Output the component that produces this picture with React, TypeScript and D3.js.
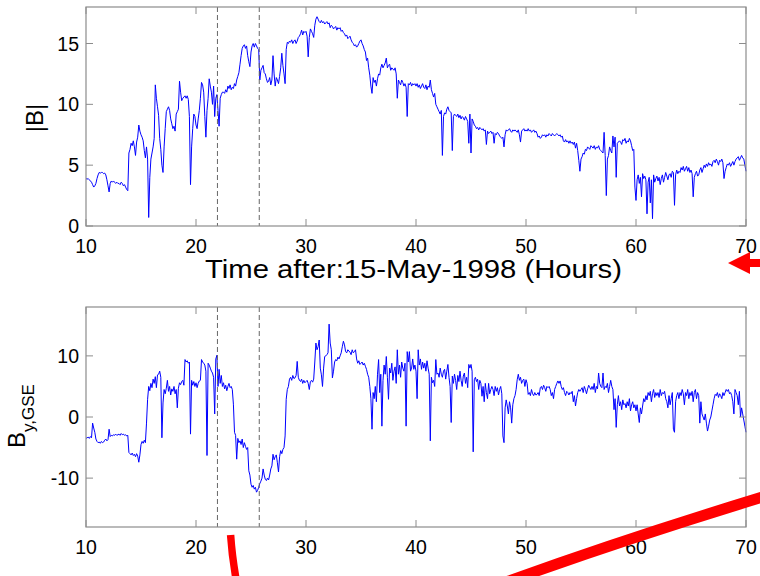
import React from "react";
import * as d3 from "d3";

// time axis (hours after 15-May-1998), sampled every 0.1 h from 10 to 70
const T0 = 10;
const DT = 0.1;

// |B| (nT), one row per hour, 10 samples per row
const bMag: number[] = [
  3.9, 3.85, 3.9, 3.8, 3.7, 3.6, 3.4, 3.2, 3.3, 3.5,
  3.9, 4.2, 4.4, 4.35, 4.4, 4.4, 4.3, 4.35, 4.2, 3.8,
  3.3, 2.8, 3.5, 3.7, 3.6, 3.7, 3.6, 3.5, 3.6, 3.5,
  3.5, 3.4, 3.6, 3.5, 3.3, 3.4, 3.2, 3.0, 2.9, 6.0,
  6.3, 6.8, 6.6, 7.0, 6.5, 5.8, 6.9, 7.3, 8.3, 7.8,
  7.5, 7.3, 7.0, 6.2, 5.6, 6.5, 5.5, 0.7, 4.0, 5.5,
  6.0, 6.5, 7.2, 11.6, 10.5, 9.8, 9.1, 7.2, 6.3, 5.0,
  4.4, 6.5, 8.0, 9.4, 9.6, 9.8, 9.5, 8.8, 8.4, 8.0,
  8.2, 7.8, 9.2, 9.4, 9.6, 11.9, 11.0, 10.3, 10.5, 10.6,
  10.7, 10.5, 10.7, 10.4, 9.0, 3.4, 6.5, 8.0, 9.2, 9.0,
  8.3, 8.0, 8.8, 9.5, 10.5, 11.8, 11.6, 11.0, 9.0, 7.3,
  9.5, 10.5, 12.1, 11.5, 11.0, 10.0, 11.5, 9.0, 10.5, 10.8,
  9.5, 8.2, 10.5, 10.8, 11.0, 11.0, 10.9, 11.2, 11.0, 11.5,
  11.3, 11.6, 11.2, 11.4, 11.3, 11.7, 11.5, 12.0, 12.3, 12.6,
  13.3, 14.0, 14.6, 14.8, 14.9, 14.6, 14.8, 14.0, 13.5, 13.1,
  14.3, 14.8, 15.0, 14.7, 15.0, 14.8, 14.6, 14.5, 12.0, 12.8,
  13.0, 13.2, 12.6, 12.5, 12.1, 11.8, 11.9, 12.2, 11.6, 12.0,
  14.0, 12.5, 11.5, 12.2, 12.0, 11.7, 12.3, 13.0, 14.2, 13.2,
  12.5, 11.7, 14.5, 15.1, 15.0, 15.2, 15.1, 15.3, 15.0, 15.2,
  15.3, 15.0, 15.2, 15.5, 15.6, 15.8, 16.1, 15.7, 16.0, 15.9,
  16.0, 15.6, 13.9, 15.5, 16.2, 16.0, 15.8, 15.5, 16.5, 17.0,
  17.2, 17.0, 16.8, 16.7, 16.9, 16.7, 16.8, 16.6, 16.7, 16.8,
  16.6, 16.7, 16.3, 16.5, 16.4, 16.2, 16.3, 16.4, 16.1, 16.3,
  16.2, 16.3, 16.0, 16.1, 15.9, 15.8, 15.6, 15.7, 15.4, 15.5,
  15.6, 15.3, 15.1, 15.0, 14.8, 14.9, 14.7, 14.8, 15.0, 15.2,
  15.3, 15.0, 14.8, 14.5, 14.3, 13.6, 13.8, 13.0, 12.4, 11.5,
  10.9, 12.2, 11.8, 12.0, 11.5, 12.1, 12.5, 12.4, 13.0, 13.3,
  13.0, 13.2, 13.4, 13.8, 13.0, 13.2, 13.3, 12.8, 13.0, 12.9,
  12.8, 13.0, 12.5, 10.5, 12.0, 11.8, 11.6, 12.0, 11.8, 11.5,
  11.7, 11.4, 9.0, 11.7, 11.6, 11.8, 11.5, 11.7, 11.6, 11.7,
  11.5, 11.7, 11.4, 11.6, 11.3, 11.5, 11.7, 11.4, 11.3, 11.6,
  11.2, 11.5, 11.4, 12.0, 11.2, 10.9, 10.6, 10.9, 10.0, 9.8,
  9.6, 9.4, 9.2, 9.5, 5.8, 9.0, 9.3, 9.2, 9.6, 9.8,
  9.5, 9.4, 9.3, 6.2, 9.0, 9.2, 9.1, 9.0, 9.2, 8.9,
  9.1, 8.8, 9.0, 8.9, 8.7, 9.0, 8.8, 8.6, 6.8, 9.2,
  6.0, 8.8, 8.6, 8.3, 8.2, 8.0, 8.1, 7.9, 8.1, 8.0,
  7.9, 8.0, 7.8, 7.9, 6.7, 7.8, 7.6, 7.7, 7.8, 7.6,
  7.7, 6.8, 7.6, 7.5, 7.7, 7.6, 7.4, 7.3, 7.2, 7.3,
  6.5, 7.5, 7.9, 7.8, 7.9, 8.0, 7.8, 7.7, 7.9, 7.8,
  7.9, 7.8, 7.7, 7.9, 7.5, 6.9, 7.8, 7.9, 8.0, 7.8,
  7.9, 7.8, 8.0, 7.8, 7.9, 7.7, 7.8, 7.9, 7.7, 7.8,
  7.6, 7.3, 7.4, 7.2, 7.3, 7.5, 7.4, 7.5, 7.3, 7.5,
  7.4, 7.6, 7.5, 7.4, 7.6, 7.5, 7.4, 7.5, 7.6, 7.5,
  7.4, 7.5, 7.3, 7.4, 7.0, 6.9, 7.1, 6.9, 7.0, 6.8,
  7.0, 6.8, 6.9, 6.7, 6.9, 6.4, 6.8, 6.2, 5.4, 4.5,
  5.5, 5.7, 6.0, 5.9, 6.3, 6.2, 6.5, 6.4, 6.3, 6.6,
  6.5, 6.4, 6.6, 6.3, 6.5, 6.4, 6.6, 6.3, 6.2, 6.1,
  6.0, 7.7, 5.8, 2.5, 5.5, 5.8, 6.5, 6.2, 6.0, 7.4,
  6.5, 7.3, 4.0, 6.8, 6.9, 7.0, 6.9, 6.7, 7.1, 7.0,
  7.2, 6.8, 7.0, 6.9, 7.2, 7.0, 6.6, 6.2, 6.3, 3.2,
  2.1, 3.8, 4.2, 3.5, 4.0, 2.4, 4.3, 3.9, 4.1, 3.8,
  1.0, 3.6, 4.0, 1.9, 3.8, 0.6, 4.2, 3.6, 3.9, 4.1,
  3.7, 4.0, 3.4, 3.9, 4.2, 3.6, 4.0, 4.4, 4.1, 3.8,
  4.2, 4.3, 4.0, 4.5, 4.4, 1.7, 4.2, 4.6, 4.3, 4.5,
  4.4, 4.8, 4.6, 4.9, 4.5, 4.7, 4.9, 4.5, 4.8, 4.4,
  4.6, 4.3, 2.4, 4.0, 4.3, 4.5, 4.1, 4.2, 4.6, 4.8,
  4.4, 4.7, 5.0, 4.8, 5.1, 4.9, 5.2, 5.0, 5.1, 4.9,
  5.3, 5.4, 5.2, 5.5, 5.3, 5.0, 5.4, 5.3, 5.5, 5.2,
  3.9, 4.5, 4.8, 5.1, 5.0, 5.2, 4.9, 5.1, 5.3, 5.0,
  5.3, 5.5, 5.6, 5.7, 5.4, 5.6, 5.8, 5.6, 5.5, 5.0,
  4.5,
];

// B_y,GSE (nT), one row per hour, 10 samples per row
const bY: number[] = [
  -3.5, -3.4, -3.3, -3.5, -3.2, -3.4, -1.0, -1.8, -2.5, -3.6,
  -4.0, -4.2, -4.1, -4.3, -4.0, -4.2, -4.1, -3.8, -3.6, -3.9,
  -3.7, -2.0, -3.2, -3.0, -3.1, -2.9, -3.0, -2.8, -3.0, -2.9,
  -2.8, -3.0, -2.7, -2.9, -2.8, -3.0, -2.9, -3.1, -3.0, -5.8,
  -6.0, -6.2, -5.9, -6.3, -6.1, -6.5, -6.0, -6.4, -7.4, -6.2,
  -4.5, -4.0, -4.3, -3.8, -4.2, -1.0, 2.9, 5.0, 4.3, 5.5,
  4.8, 6.2, 5.5, 6.6, 4.8, 6.9, 7.0, 7.5, 6.5, -3.4,
  2.3, 4.5, 3.8, 4.7, 6.0, 4.2, 5.0, 3.6, 4.6, 4.2,
  5.0, 3.8, 4.5, 1.5, 4.7, 5.6, 5.3, 5.8, 6.0, 5.2,
  9.4, 9.0, 9.2, 8.8, 9.0, -2.8, 6.0, 5.2, 5.8, 5.0,
  5.6, 4.8, 5.5, 5.9, 6.0, 9.4, 9.0, 8.8, 8.5, 7.5,
  -6.3, 8.8, 8.5, 8.0, 7.5, 7.2, 6.5, 0.5, 9.5, 10.1,
  5.0, 7.8, 5.5, 6.8, 5.0, 5.6, 4.6, 5.2, 4.3, 5.0,
  5.5, 4.8, 5.0, 4.5, 2.1, -2.5, -3.0, -6.9, -3.5, -4.2,
  -3.9, -4.5, -3.6, -5.0, -4.2, -4.8, -5.3, -5.0, -8.8, -9.5,
  -11.0, -11.5, -11.2, -11.8, -11.5, -12.3, -12.0, -11.5, -10.9, -10.5,
  -10.0, -8.5, -9.5, -10.2, -10.4, -10.0, -10.3, -9.5, -8.5, -8.0,
  -6.1, -7.0, -6.5, -6.2, -7.5, -9.0, -6.5, -5.5, -6.0, -5.3,
  -5.0, -3.1, 2.9, 4.5, 5.0, 6.2, 6.5, 6.0, 6.8, 6.3,
  6.4, 6.8, 9.1, 6.5, 6.0, 5.8, 6.2, 5.5, 6.0, 5.6,
  5.8, 6.0, 5.5, 4.5, 5.8, 6.0, 5.7, 6.2, 9.0, 12.1,
  11.0, 11.5, 12.6, 8.0, 6.9, 5.0, 8.0, 9.9, 10.0, 10.2,
  10.5, 15.2, 12.1, 11.0, 6.4, 7.5, 9.0, 9.4, 9.2, 9.8,
  9.5, 10.0, 10.5, 11.5, 12.4, 11.8, 10.7, 10.5, 11.0, 10.8,
  10.6, 10.2, 11.0, 10.5, 10.7, 11.0, 9.5, 8.8, 9.2, 8.6,
  8.8, 9.0, 8.5, 8.8, 8.3, 7.8, 7.0, 6.5, 5.0, 3.0,
  -2.0, 4.0, 3.0, 5.0, 2.5, 7.0, 9.4, 4.0, 7.0, -1.5,
  6.0, 8.5, 7.0, 9.9, 6.5, 2.9, 8.0, 7.2, 8.8, 6.0,
  7.5, 8.2, 5.5, 11.0, 7.0, 8.5, 6.5, 9.0, 8.0, 7.5,
  8.8, -1.5, 10.7, 9.0, 10.7, 7.5, 8.0, 9.5, 7.8, 8.5,
  7.5, 3.0, 11.0, 8.5, 9.5, 7.8, 9.0, 8.0, 8.8, 7.5,
  9.2, 8.0, 7.0, -3.9, 6.5, 5.6, 6.0, 5.0, 9.4, 7.0,
  7.2, 6.5, 8.0, 7.0, 6.5, 7.5, 7.8, 6.2, 7.5, 8.6,
  6.5, 5.0, -0.9, 6.7, 5.5, 7.0, 6.0, 4.5, 6.8, 5.8,
  7.5, 6.0, 5.0, 6.7, 7.2, 5.5, 6.5, 4.8, 8.6, 8.0,
  8.6, 7.5, -5.7, 6.1, 6.5, 5.8, 6.2, 4.5, 6.0, 5.5,
  3.4, 5.0, 2.5, 5.5, 4.0, 3.0, 5.5, 3.8, 4.5, 5.0,
  4.5, 3.5, 5.0, 4.2, 4.8, 3.6, 4.5, 5.0, 3.8, -3.1,
  -4.2, 1.5, 2.8, 1.8, 0.5, 2.5, 1.5, -1.0, 2.0, 3.0,
  3.5, 4.5, 6.1, 7.0, 6.0, 6.5, 5.5, 6.0, 6.2, 5.0,
  6.1, 5.5, 3.7, 4.0, 3.5, 4.5, 3.8, 3.5, 4.0, 3.6,
  3.7, 4.0, 3.5, 4.8, 5.0, 4.5, 5.2, 4.8, 4.2, 5.0,
  4.8, 5.0, 4.5, 3.5, 4.0, 3.0, 4.5, 5.0, 5.5, 5.9,
  5.5, 5.9, 5.0, 4.5, 4.8, 4.0, 3.5, 4.2, 4.0, 3.6,
  4.0, 3.8, 4.2, 2.5, 3.5, 1.8, 3.0, 4.0, 4.5, 4.2,
  4.5, 4.8, 4.0, 5.0, 4.5, 3.8, 4.6, 5.2, 4.8, 4.5,
  5.0, 4.5, 5.5, 4.0, 5.0, 4.6, 7.2, 5.5, 5.0, 4.8,
  7.2, 4.5, 5.0, 4.8, 5.5, 4.0, 5.0, 6.0, 5.0, 4.5,
  1.2, 3.0, -1.7, 2.0, 3.5, 1.8, 2.5, 1.2, 2.8, 2.0,
  2.2, 1.5, 2.5, 1.8, 3.0, 1.0, 2.0, 2.5, 1.5, 2.0,
  1.0, 2.0, 0.5, -0.9, 1.5, 0.5, 1.8, 3.0, 2.5, 3.5,
  2.8, 4.0, 3.5, 4.2, 2.5, 3.8, 4.5, 3.2, 4.0, 3.5,
  4.0, 3.2, 4.5, 3.5, 4.0, 3.8, 4.2, 3.0, 2.5, 1.5,
  3.5, 2.0, 3.0, 4.0, -2.0, -2.5, 2.5, 3.5, 4.0, 3.0,
  4.0, 3.5, 4.5, 3.8, 2.0, 4.0, 3.5, 4.5, 3.0, 4.0,
  3.5, 4.2, 2.5, 4.0, 4.5, 3.0, 4.0, 3.5, -1.0, 2.5,
  0.5, 0.0, -0.5, 0.5, -1.0, -2.3, -1.5, -0.5, 0.0, 1.0,
  2.0, 3.0, 3.7, 3.5, 4.0, 3.2, 3.8, 3.5, 3.0, 4.0,
  3.5, 4.0, 4.5, 4.2, 4.5, 3.8, 4.0, 3.5, 2.5, 0.5,
  4.5, 4.0, 3.5, 2.0, 4.2, 0.0, 1.5, 0.5, -0.5, -1.5,
  -2.5,
];

const xTicks = [10, 20, 30, 40, 50, 60, 70];
const topYTicks = [0, 5, 10, 15];
const botYTicks = [-10, 0, 10];
const markerHours = [21.95, 25.75];
const xDomain: [number, number] = [10, 70];
const topDomain: [number, number] = [0, 18];
const botDomain: [number, number] = [-18, 18];
const xLabel = "Time after:15-May-1998 (Hours)";

const FONT = "'Liberation Sans', Arial, Helvetica, sans-serif";
const AX = "#8c8c8c";

type PanelProps = {
  values: number[];
  yDomain: [number, number];
  yTicks: number[];
  top: number;
  bottom: number;
  x: d3.ScaleLinear<number, number>;
};

function Panel({ values, yDomain, yTicks, top, bottom, x }: PanelProps) {
  const y = d3.scaleLinear().domain(yDomain).range([bottom, top]);
  const [x0, x1] = x.range();
  const pts: [number, number][] = values.map((v, i) => [T0 + i * DT, v]);
  const line = d3
    .line<[number, number]>()
    .x((d) => x(d[0]))
    .y((d) => y(d[1]));
  const tl = 7;
  return (
    <g>
      <path d={line(pts) || ""} fill="none" stroke="#0000ff" strokeWidth={1} />
      {markerHours.map((h) => (
        <line
          key={h}
          x1={x(h)}
          x2={x(h)}
          y1={top}
          y2={bottom}
          stroke="#666"
          strokeWidth={1}
          strokeDasharray="5,3"
        />
      ))}
      <rect x={x0} y={top} width={x1 - x0} height={bottom - top} fill="none" stroke={AX} strokeWidth={1.2} />
      {xTicks.map((t) => (
        <g key={"x" + t}>
          <line x1={x(t)} x2={x(t)} y1={bottom} y2={bottom - tl} stroke={AX} />
          <line x1={x(t)} x2={x(t)} y1={top} y2={top + tl} stroke={AX} />
          <text
            x={x(t)}
            y={bottom + 27}
            textAnchor="middle"
            fontFamily={FONT}
            fontSize={19.5}
            fill="#000"
          >
            {t}
          </text>
        </g>
      ))}
      {yTicks.map((t) => (
        <g key={"y" + t}>
          <line x1={x0} x2={x0 + tl} y1={y(t)} y2={y(t)} stroke={AX} />
          <line x1={x1} x2={x1 - tl} y1={y(t)} y2={y(t)} stroke={AX} />
          <text
            x={x0 - 7}
            y={y(t)}
            dy="0.36em"
            textAnchor="end"
            fontFamily={FONT}
            fontSize={19.5}
            fill="#000"
          >
            {t}
          </text>
        </g>
      ))}
    </g>
  );
}

export default function App() {
  const x = d3.scaleLinear().domain(xDomain).range([86, 746]);
  return (
    <svg
      width={760}
      height={576}
      style={{ position: "absolute", left: 0, top: 0, background: "#fff" }}
    >
      <rect x={0} y={0} width={760} height={576} fill="#fff" />
      <Panel values={bMag} yDomain={topDomain} yTicks={topYTicks} top={7} bottom={226} x={x} />
      <Panel values={bY} yDomain={botDomain} yTicks={botYTicks} top={307} bottom={527} x={x} />

      <text
        x={205}
        y={278}
        fontFamily={FONT}
        fontSize={25}
        textLength={417}
        lengthAdjust="spacingAndGlyphs"
        fill="#000"
      >
        {xLabel}
      </text>

      <text
        transform="translate(43,118) rotate(-90)"
        textAnchor="middle"
        fontFamily={FONT}
        fontSize={24}
        fill="#000"
      >
        |B|
      </text>

      <text transform="translate(25,448) rotate(-90)" fontFamily={FONT} fontSize={24} fill="#000">
        B
        <tspan fontSize={17} dy={9}>
          y,GSE
        </tspan>
      </text>

      {/* red annotations */}
      <polygon points="728,263 750,252 750,259 762,259 762,267 750,267 750,274" fill="#ff0000" />
      <path d="M230.6,535 Q232,556 236.2,580" fill="none" stroke="#ff0000" strokeWidth={7.5} />
      <path d="M506,582 Q628,538 766,496" fill="none" stroke="#ff0000" strokeWidth={11} />
    </svg>
  );
}
